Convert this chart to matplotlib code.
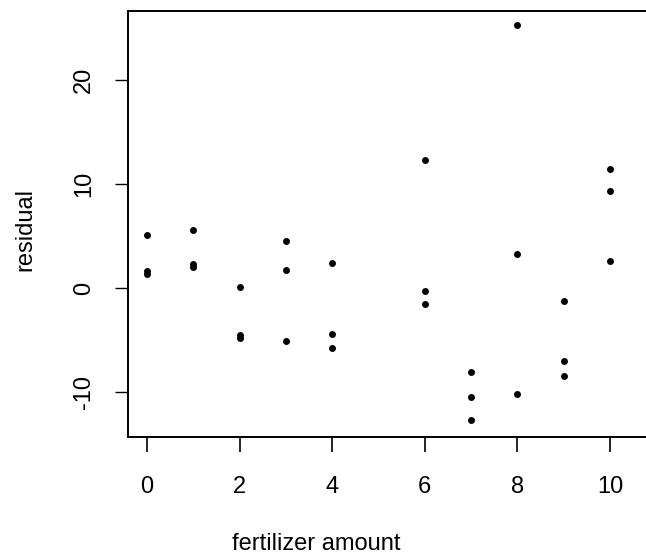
import matplotlib.pyplot as plt
import numpy as np

# fertilizer amount (3 plots per level) and residuals
fert = [0, 0, 0, 1, 1, 1, 2, 2, 2, 3, 3, 3, 4, 4, 4,
        6, 6, 6, 7, 7, 7, 8, 8, 8, 9, 9, 9, 10, 10, 10]
resid = [5.1, 1.6, 1.3, 5.6, 2.3, 2.0, 0.1, -4.5, -4.8, 4.5, 1.7, -5.1,
         2.4, -4.4, -5.8, 12.3, -0.3, -1.5, -8.1, -10.5, -12.7,
         25.3, 3.3, -10.2, -1.3, -7.0, -8.5, 11.4, 9.3, 2.6]
xticks = [0, 2, 4, 6, 8, 10]
yticks = [-10, 0, 10, 20]

plt.rcParams['font.family'] = ['Liberation Sans Narrow', 'Liberation Sans', 'DejaVu Sans']
plt.rcParams['axes.unicode_minus'] = False

fig = plt.figure(figsize=(6.46, 5.56), dpi=100)
# right edge of the box is cut off in the scan, so let the axes run past the figure
ax = fig.add_axes([128/646, 1 - 437/556, 532/646, 426/556])

ax.plot(fert, resid, 'o', color='black', markersize=5, markeredgewidth=0)

ax.set_xlim(-0.41, 11.08)
ax.set_ylim(-14.33, 26.63)
ax.set_xticks(xticks)
ax.set_yticks(yticks)

for s in ax.spines.values():
    s.set_linewidth(1.4)
ax.spines['right'].set_visible(False)

ax.tick_params(axis='x', length=11, width=1.2, pad=17, labelsize=17)
ax.tick_params(axis='y', length=9.5, width=1.0, pad=14, labelsize=17, labelrotation=90)
for lbl in ax.get_yticklabels():
    lbl.set_va('center')

ax.set_xlabel('fertilizer amount', fontsize=17)
ax.xaxis.set_label_coords(0.353, -0.225)
ax.set_ylabel('residual', fontsize=17)
ax.yaxis.set_label_coords(-0.172, 0.486)

fig.savefig('out.png', dpi=100)
